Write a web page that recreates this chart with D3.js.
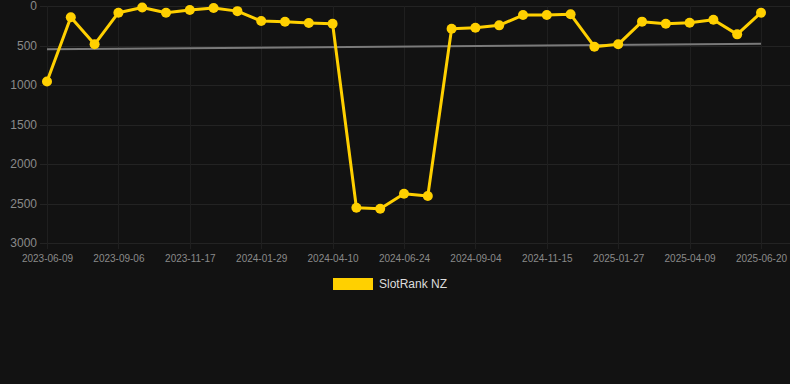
<!DOCTYPE html>
<html>
<head>
<meta charset="utf-8">
<script src="https://cdn.jsdelivr.net/npm/d3@7"></script>
<style>
  html, body { margin: 0; padding: 0; background: #121212; }
  #chart { width: 790px; height: 384px; }
</style>
</head>
<body>
<div id="chart"></div>
<script>
    // rank per snapshot (lower = better), 31 snapshots, labels every 3rd
    const tickLabels = ["2023-06-09", "2023-09-06", "2023-11-17", "2024-01-29", "2024-04-10", "2024-06-24",
        "2024-09-04", "2024-11-15", "2025-01-27", "2025-04-09", "2025-06-20"]
    const rankValues = [955, 143, 485, 85, 20, 85, 50, 25, 65, 190, 200, 215, 224,
        2553, 2566, 2376, 2405, 287, 275, 245, 115, 115, 105, 515, 485, 198, 224, 211, 173, 359, 85]
    const trendValues = [548, 477] // start / end of the grey trend line
    const yTicks = [0, 500, 1000, 1500, 2000, 2500, 3000]
    const seriesName = "SlotRank NZ"

    const graphWidth = 790
    const graphHeight = 384
    const plotLeft = 47, plotRight = 761, plotTop = 6, plotBottom = 243

    let svg = d3.select("#chart")
        .append("svg")
        .attr("width", graphWidth)
        .attr("height", graphHeight)

    let x = d3.scaleLinear() // index -> x position
        .domain([0, rankValues.length - 1])
        .range([plotLeft, plotRight])

    let y = d3.scaleLinear()
        .domain([0, 3000])
        .range([plotTop, plotBottom])

    // horizontal grid + y labels
    svg.append("g").selectAll("line").data(yTicks).enter()
        .append("line")
        .attr("x1", 40).attr("x2", graphWidth)
        .attr("y1", (d) => Math.round(y(d)) + 0.5).attr("y2", (d) => Math.round(y(d)) + 0.5)
        .attr("stroke", "#232323")
        .attr("stroke-width", 1)

    let yAxis = svg.append("g")
        .attr("transform", "translate(" + 40 + ",0)")
        .call(d3.axisLeft(y).tickValues(yTicks).tickSize(0).tickPadding(3).tickFormat(d3.format("d")))
    yAxis.select(".domain").remove()
    yAxis.selectAll("text")
        .attr("fill", "#8a8a8a")
        .attr("font-size", 12)
        .attr("font-family", "Liberation Sans, Arial, sans-serif")

    // vertical grid + x labels (every 3rd point)
    let tickIdx = tickLabels.map((d, i) => i * 3)
    svg.append("g").selectAll("line").data(tickIdx).enter()
        .append("line")
        .attr("x1", (d) => Math.round(x(d)) + 0.5).attr("x2", (d) => Math.round(x(d)) + 0.5)
        .attr("y1", plotTop).attr("y2", plotBottom + 6)
        .attr("stroke", "#1f1f1f")
        .attr("stroke-width", 1)

    let xAxis = svg.append("g")
        .attr("transform", "translate(0," + plotBottom + ")")
        .call(d3.axisBottom(x).tickValues(tickIdx).tickSize(0).tickPadding(12)
            .tickFormat((d, i) => tickLabels[i]))
    xAxis.select(".domain").remove()
    xAxis.selectAll("text")
        .attr("fill", "#8a8a8a")
        .attr("font-size", 10)
        .attr("font-family", "Liberation Sans, Arial, sans-serif")

    // trend line
    svg.append("line")
        .attr("x1", x(0)).attr("x2", x(rankValues.length - 1))
        .attr("y1", y(trendValues[0])).attr("y2", y(trendValues[1]))
        .attr("stroke", "#7a7a7a")
        .attr("stroke-width", 2)

    // series line
    let line = d3.line()
        .x((d, i) => x(i))
        .y((d) => y(d))
    svg.append("path")
        .datum(rankValues)
        .attr("d", line)
        .attr("fill", "none")
        .attr("stroke", "#ffd000")
        .attr("stroke-width", 3)
        .attr("stroke-linejoin", "round")

    svg.append("g").selectAll("circle").data(rankValues).enter()
        .append("circle")
        .attr("cx", (d, i) => x(i))
        .attr("cy", (d) => y(d))
        .attr("r", 5)
        .attr("fill", "#ffd000")

    // legend
    let legend = svg.append("g")
    legend.append("rect")
        .attr("x", 333).attr("y", 278)
        .attr("width", 40).attr("height", 12)
        .attr("fill", "#ffd000")
    legend.append("text")
        .attr("x", 379).attr("y", 284)
        .attr("dy", "0.35em")
        .attr("fill", "#dddddd")
        .attr("font-size", 12)
        .attr("font-family", "Liberation Sans, Arial, sans-serif")
        .text(seriesName)
</script>
</body>
</html>
